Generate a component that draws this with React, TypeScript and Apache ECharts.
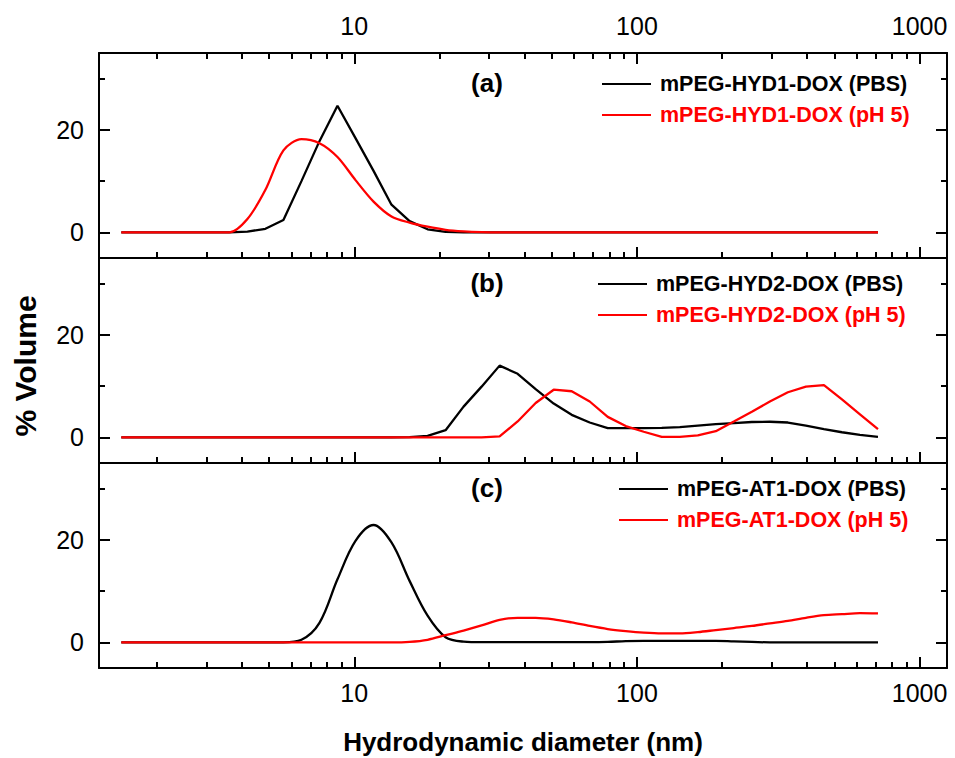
import React, { useEffect, useRef } from "react";
import * as echarts from "echarts";

// Hydrodynamic diameter bins (nm)
const sizeBins = [
  1.499, 1.736, 2.01, 2.328, 2.696, 3.122, 3.615, 4.187, 4.849, 5.615, 6.503, 7.531, 8.721, 10.1, 11.7,
  13.54, 15.69, 18.17, 21.04, 24.36, 28.21, 32.67, 37.84, 43.82, 50.75, 58.77, 68.06, 78.82, 91.28,
  105.7, 122.4, 141.8, 164.2, 190.1, 220.2, 255.0, 295.3, 342.0, 396.1, 458.7, 531.2, 615.1, 712.4,
];

// (a)
const hyd1PBS = [
  0, 0, 0, 0, 0, 0, 0, 0.15, 0.7, 2.4, 10.0, 17.8, 24.7, 18.4, 12.0, 5.4, 2.2, 0.6, 0.1, 0, 0, 0, 0, 0,
  0, 0, 0, 0, 0, 0, 0, 0, 0, 0, 0, 0, 0, 0, 0, 0, 0, 0, 0,
];
const hyd1pH5 = [
  0, 0, 0, 0, 0, 0, 0, 2.6, 8.3, 16.0, 18.2, 17.4, 14.7, 10.2, 6.0, 3.1, 1.9, 1.1, 0.5, 0.2, 0.05, 0, 0,
  0, 0, 0, 0, 0, 0, 0, 0, 0, 0, 0, 0, 0, 0, 0, 0, 0, 0, 0, 0,
];
// (b)
const hyd2PBS = [
  0, 0, 0, 0, 0, 0, 0, 0, 0, 0, 0, 0, 0, 0, 0, 0, 0.05, 0.3, 1.4, 6.0, 9.9, 14.0, 12.4, 9.4, 6.6, 4.4, 2.9,
  1.8, 1.8, 1.8, 1.85, 2.0, 2.3, 2.6, 2.8, 3.0, 3.05, 2.9, 2.3, 1.6, 1.0, 0.5, 0.1,
];
const hyd2pH5 = [
  0, 0, 0, 0, 0, 0, 0, 0, 0, 0, 0, 0, 0, 0, 0, 0, 0, 0, 0, 0, 0, 0.2, 3.1, 6.7, 9.3, 9.0, 7.0, 4.0, 2.2,
  1.1, 0.1, 0.1, 0.4, 1.2, 3.1, 5.0, 7.0, 8.8, 9.9, 10.2, 7.4, 4.5, 1.6,
];
// (c)
const at1PBS = [
  0, 0, 0, 0, 0, 0, 0, 0, 0, 0, 0.5, 3.8, 12.3, 19.8, 22.9, 19.5, 12.0, 5.2, 1.0, 0.15, 0.05, 0.05, 0.05,
  0.05, 0.05, 0.05, 0.05, 0.1, 0.25, 0.3, 0.3, 0.3, 0.3, 0.3, 0.2, 0.1, 0, 0, 0, 0, 0, 0, 0,
];
const at1pH5 = [
  0, 0, 0, 0, 0, 0, 0, 0, 0, 0, 0, 0, 0, 0, 0, 0, 0.1, 0.5, 1.4, 2.3, 3.3, 4.4, 4.8, 4.8, 4.5, 3.9, 3.2,
  2.6, 2.2, 1.9, 1.75, 1.75, 2.0, 2.4, 2.8, 3.2, 3.7, 4.2, 4.8, 5.3, 5.5, 5.7, 5.65,
];

const panelLabels = ["(a)", "(b)", "(c)"];
const seriesNames = [
  ["mPEG-HYD1-DOX (PBS)", "mPEG-HYD1-DOX (pH 5)"],
  ["mPEG-HYD2-DOX (PBS)", "mPEG-HYD2-DOX (pH 5)"],
  ["mPEG-AT1-DOX (PBS)", "mPEG-AT1-DOX (pH 5)"],
];
const seriesValues = [
  [hyd1PBS, hyd1pH5],
  [hyd2PBS, hyd2pH5],
  [at1PBS, at1pH5],
];
const seriesSmooth = [
  [false, 0.3],
  [false, false],
  [0.35, 0.3],
];
const xMajorTicks = [10, 100, 1000];
const xMinorTicks = [2, 3, 4, 5, 6, 7, 8, 9, 20, 30, 40, 50, 60, 70, 80, 90, 200, 300, 400, 500, 600, 700, 800, 900];
const yMajorTicks = [0, 20];
const yMinorTicks = [10, 30];
const xRange = [1.25, 1250];
const yRange = [-5, 35];

const FONT = '"Liberation Sans", Arial, Helvetica, sans-serif';
const BLACK = "#000000";
const RED = "#ff0000";

function buildOption() {
  const gridTops = [53, 258, 463];
  const grid = gridTops.map((top) => ({
    left: 99,
    width: 848,
    top,
    height: 205,
    outerBoundsMode: "none",
    containLabel: false,
  }));
  const lmin = Math.log10(xRange[0]);
  const lmax = Math.log10(xRange[1]);
  const majX = xMajorTicks.map((v) => Math.log10(v));
  const minX = xMinorTicks.map((v) => Math.log10(v));
  const lineStyle = { color: BLACK, width: 2 };
  const xAxis: any[] = [];
  const yAxis: any[] = [];
  const series: any[] = [];
  const legend: any[] = [];
  const mainX: number[] = [];
  const mainY: number[] = [];

  const xa = (gi: number, position: string, opts: any) => ({
    type: "value",
    gridIndex: gi,
    position,
    min: lmin,
    max: lmax,
    splitLine: { show: false },
    axisLine: { show: opts.line, onZero: false, lineStyle },
    axisTick: {
      show: opts.ticks,
      inside: true,
      length: opts.len,
      customValues: opts.values,
      lineStyle,
    },
    axisLabel: {
      show: opts.label,
      customValues: majX,
      formatter: (v: number) => String(Math.round(Math.pow(10, v))),
      fontSize: 25,
      fontFamily: FONT,
      color: BLACK,
      margin: position === "top" ? 15 : 12,
    },
  });
  const ya = (gi: number, position: string, opts: any) => ({
    type: "value",
    gridIndex: gi,
    position,
    min: yRange[0],
    max: yRange[1],
    splitLine: { show: false },
    axisLine: { show: opts.line, onZero: false, lineStyle },
    axisTick: { show: true, inside: true, length: opts.len, customValues: opts.values, lineStyle },
    axisLabel: {
      show: opts.label,
      customValues: yMajorTicks,
      fontSize: 25,
      fontFamily: FONT,
      color: BLACK,
      margin: 15,
    },
  });

  for (let i = 0; i < 3; i++) {
    mainX.push(xAxis.length);
    xAxis.push(xa(i, "bottom", { line: true, ticks: true, len: 11, values: majX, label: i === 2 }));
    xAxis.push(xa(i, "bottom", { line: false, ticks: true, len: 6, values: minX, label: false }));
    xAxis.push(xa(i, "top", { line: true, ticks: i === 0, len: 11, values: majX, label: i === 0 }));
    if (i === 0) xAxis.push(xa(i, "top", { line: false, ticks: true, len: 6, values: minX, label: false }));

    mainY.push(yAxis.length);
    yAxis.push(ya(i, "left", { line: true, len: 11, values: yMajorTicks, label: true }));
    yAxis.push(ya(i, "left", { line: false, len: 6, values: yMinorTicks, label: false }));
    yAxis.push(ya(i, "right", { line: true, len: 11, values: yMajorTicks, label: false }));
    yAxis.push(ya(i, "right", { line: false, len: 6, values: yMinorTicks, label: false }));
  }

  const colors = [BLACK, RED];
  const legendLeft = [602, 598, 619];
  const legendTop = [73, 273, 478];
  for (let i = 0; i < 3; i++) {
    for (let j = 0; j < 2; j++) {
      series.push({
        type: "line",
        name: seriesNames[i][j],
        xAxisIndex: mainX[i],
        yAxisIndex: mainY[i],
        data: sizeBins.map((d, k) => [Math.log10(d), seriesValues[i][j][k]]),
        symbol: "none",
        smooth: seriesSmooth[i][j],
        lineStyle: { color: colors[j], width: 2.3 },
        itemStyle: { color: colors[j] },
        z: 3 + j,
      });
    }
    legend.push({
      orient: "vertical",
      left: legendLeft[i],
      top: legendTop[i],
      padding: 0,
      itemGap: 9,
      itemWidth: 49,
      itemHeight: 2,
      icon: "rect",
      selectedMode: false,
      textStyle: {
        fontSize: 21.5,
        fontWeight: "bold",
        fontFamily: FONT,
        padding: [0, 0, 0, 4],
        lineHeight: 21,
      },
      data: seriesNames[i].map((n, j) => ({ name: n, textStyle: { color: colors[j] } })),
    });
  }

  const panelLabelY = [83, 283, 488];
  const graphic: any[] = panelLabels.map((t, i) => ({
    type: "text",
    x: 487,
    y: panelLabelY[i],
    style: {
      text: t,
      fill: BLACK,
      fontSize: 26,
      fontWeight: "bold",
      fontFamily: FONT,
      align: "center",
      verticalAlign: "middle",
    },
  }));
  graphic.push({
    type: "text",
    x: 523,
    y: 742,
    style: {
      text: "Hydrodynamic diameter (nm)",
      fill: BLACK,
      fontSize: 26,
      fontWeight: "bold",
      fontFamily: FONT,
      align: "center",
      verticalAlign: "middle",
    },
  });
  graphic.push({
    type: "text",
    x: 25,
    y: 366,
    rotation: Math.PI / 2,
    style: {
      text: "% Volume",
      fill: BLACK,
      fontSize: 30,
      fontWeight: "bold",
      fontFamily: FONT,
      align: "center",
      verticalAlign: "middle",
    },
  });

  return {
    animation: false,
    backgroundColor: "#ffffff",
    grid,
    xAxis,
    yAxis,
    series,
    legend,
    graphic,
  };
}

export default function App() {
  const ref = useRef<HTMLDivElement>(null);
  useEffect(() => {
    document.body.style.margin = "0";
    const chart = echarts.init(ref.current as HTMLDivElement, null, { renderer: "svg" });
    chart.setOption(buildOption() as any);
    return () => chart.dispose();
  }, []);
  return <div ref={ref} style={{ width: 955, height: 758 }} />;
}
